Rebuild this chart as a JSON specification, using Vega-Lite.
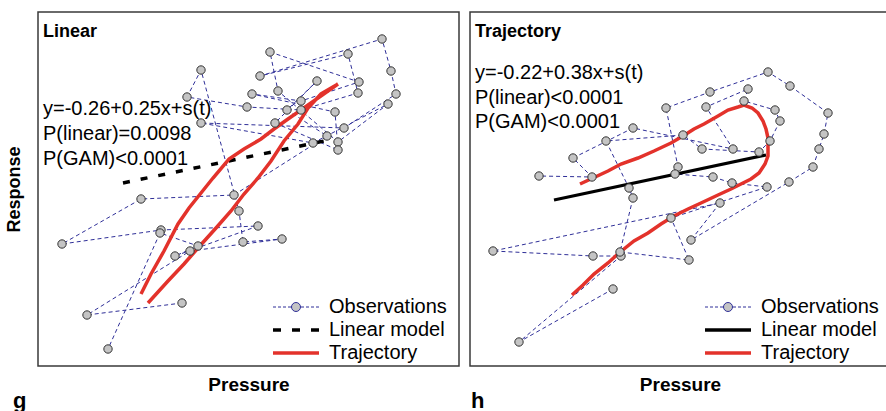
{
  "$schema": "https://vega.github.io/schema/vega-lite/v6.json",
  "background": "white",
  "padding": {"left": 4, "top": 11, "right": -4, "bottom": 0},
  "spacing": 9,
  "datasets": {
    "linObs": [
      {"t":1,"pressure":144,"response":63},{"t":2,"pressure":49,"response":51},{"t":3,"pressure":152,"response":115},
      {"t":4,"pressure":244,"response":127},{"t":5,"pressure":205,"response":124},{"t":6,"pressure":201,"response":155},
      {"t":7,"pressure":163,"response":296},{"t":8,"pressure":149,"response":269},{"t":9,"pressure":209,"response":259},
      {"t":10,"pressure":263,"response":256},{"t":11,"pressure":320,"response":273},{"t":12,"pressure":310,"response":312},
      {"t":13,"pressure":222,"response":290},{"t":14,"pressure":344,"response":327},{"t":15,"pressure":353,"response":295},
      {"t":16,"pressure":358,"response":272},{"t":17,"pressure":306,"response":238},{"t":18,"pressure":163,"response":243},
      {"t":19,"pressure":275,"response":223},{"t":20,"pressure":350,"response":262},{"t":21,"pressure":300,"response":224},
      {"t":22,"pressure":240,"response":275},{"t":23,"pressure":232,"response":314},{"t":24,"pressure":321,"response":284},
      {"t":25,"pressure":263,"response":265},{"t":26,"pressure":214,"response":272},{"t":27,"pressure":297,"response":254},
      {"t":28,"pressure":300,"response":216},{"t":29,"pressure":237,"response":243},{"t":30,"pressure":279,"response":285},
      {"t":31,"pressure":249,"response":256},{"t":32,"pressure":289,"response":230},{"t":33,"pressure":196,"response":171},
      {"t":34,"pressure":103,"response":167},{"t":35,"pressure":24,"response":122},{"t":36,"pressure":123,"response":136},
      {"t":37,"pressure":220,"response":140},{"t":38,"pressure":137,"response":110},{"t":39,"pressure":160,"response":120},
      {"t":40,"pressure":122,"response":133},{"t":41,"pressure":70,"response":17}
    ],
    "trajObs": [
      {"t":1,"pressure":143,"response":77},{"t":2,"pressure":49,"response":24},{"t":3,"pressure":151,"response":110},
      {"t":4,"pressure":123,"response":110},{"t":5,"pressure":23,"response":115},{"t":6,"pressure":250,"response":163},
      {"t":7,"pressure":221,"response":126},{"t":8,"pressure":319,"response":184},{"t":9,"pressure":343,"response":199},
      {"t":10,"pressure":349,"response":217},{"t":11,"pressure":354,"response":232},{"t":12,"pressure":358,"response":253},
      {"t":13,"pressure":320,"response":280},{"t":14,"pressure":298,"response":294},{"t":15,"pressure":240,"response":274},
      {"t":16,"pressure":196,"response":258},{"t":17,"pressure":208,"response":199},{"t":18,"pressure":205,"response":192},
      {"t":19,"pressure":243,"response":189},{"t":20,"pressure":262,"response":183},{"t":21,"pressure":297,"response":179},
      {"t":22,"pressure":201,"response":148},{"t":23,"pressure":219,"response":106},{"t":24,"pressure":150,"response":114},
      {"t":25,"pressure":163,"response":168},{"t":26,"pressure":159,"response":178},{"t":27,"pressure":136,"response":225},
      {"t":28,"pressure":213,"response":231},{"t":29,"pressure":232,"response":217},{"t":30,"pressure":289,"response":214},
      {"t":31,"pressure":300,"response":225},{"t":32,"pressure":310,"response":245},{"t":33,"pressure":305,"response":256},
      {"t":34,"pressure":274,"response":265},{"t":35,"pressure":278,"response":277},{"t":36,"pressure":236,"response":259},
      {"t":37,"pressure":263,"response":217},{"t":38,"pressure":163,"response":238},{"t":39,"pressure":103,"response":208},
      {"t":40,"pressure":122,"response":189},{"t":41,"pressure":69,"response":190}
    ],
    "linFit": [{"pressure":85,"response":183},{"pressure":296,"response":227}],
    "trajFit": [{"pressure":84,"response":166},{"pressure":296,"response":211}],
    "linCurve": [
      {"t":1,"pressure":103,"response":72},{"t":2,"pressure":113,"response":92},{"t":3,"pressure":126,"response":115},
      {"t":4,"pressure":140,"response":142},{"t":5,"pressure":151,"response":158},{"t":6,"pressure":163,"response":173},
      {"t":7,"pressure":175,"response":188},{"t":8,"pressure":191,"response":207},{"t":9,"pressure":206,"response":217},
      {"t":10,"pressure":223,"response":227},{"t":11,"pressure":236,"response":237},{"t":12,"pressure":250,"response":247},
      {"t":13,"pressure":263,"response":256},{"t":14,"pressure":280,"response":268},{"t":15,"pressure":300,"response":282},
      {"t":16,"pressure":283,"response":272},{"t":17,"pressure":270,"response":258},{"t":18,"pressure":260,"response":242},
      {"t":19,"pressure":246,"response":225},{"t":20,"pressure":233,"response":205},{"t":21,"pressure":220,"response":188},
      {"t":22,"pressure":206,"response":172},{"t":23,"pressure":193,"response":155},{"t":24,"pressure":178,"response":138},
      {"t":25,"pressure":160,"response":118},{"t":26,"pressure":146,"response":102},{"t":27,"pressure":130,"response":85},
      {"t":28,"pressure":110,"response":63}
    ],
    "trajCurve": [
      {"t":1,"pressure":110,"response":182},{"t":2,"pressure":123,"response":188},{"t":3,"pressure":138,"response":195},
      {"t":4,"pressure":151,"response":202},{"t":5,"pressure":168,"response":208},{"t":6,"pressure":184,"response":215},
      {"t":7,"pressure":201,"response":223},{"t":8,"pressure":213,"response":230},{"t":9,"pressure":224,"response":237},
      {"t":10,"pressure":234,"response":242},{"t":11,"pressure":248,"response":250},{"t":12,"pressure":258,"response":256},
      {"t":13,"pressure":268,"response":259},{"t":14,"pressure":274,"response":261},{"t":15,"pressure":282,"response":258},
      {"t":16,"pressure":288,"response":253},{"t":17,"pressure":293,"response":245},{"t":18,"pressure":296,"response":237},
      {"t":19,"pressure":298,"response":228},{"t":20,"pressure":298,"response":218},{"t":21,"pressure":298,"response":210},
      {"t":22,"pressure":295,"response":202},{"t":23,"pressure":289,"response":193},{"t":24,"pressure":281,"response":187},
      {"t":25,"pressure":271,"response":182},{"t":26,"pressure":261,"response":177},{"t":27,"pressure":248,"response":171},
      {"t":28,"pressure":231,"response":163},{"t":29,"pressure":218,"response":157},{"t":30,"pressure":204,"response":150},
      {"t":31,"pressure":191,"response":142},{"t":32,"pressure":178,"response":133},{"t":33,"pressure":164,"response":125},
      {"t":34,"pressure":149,"response":113},{"t":35,"pressure":138,"response":103},{"t":36,"pressure":124,"response":92},
      {"t":37,"pressure":113,"response":81},{"t":38,"pressure":102,"response":71}
    ],
    "linTitle": [{"pressure":5,"response":329,"note":"Linear"}],
    "linNotes": [
      {"pressure":5,"response":251,"note":"y=-0.26+0.25x+s(t)"},
      {"pressure":5,"response":226,"note":"P(linear)=0.0098"},
      {"pressure":5,"response":201,"note":"P(GAM)<0.0001"}
    ],
    "trajTitle": [{"pressure":5,"response":329,"note":"Trajectory"}],
    "trajNotes": [
      {"pressure":5,"response":287,"note":"y=-0.22+0.38x+s(t)"},
      {"pressure":5,"response":262.5,"note":"P(linear)<0.0001"},
      {"pressure":5,"response":238,"note":"P(GAM)<0.0001"}
    ]
  },
  "hconcat": [
    {
      "width": 421,
      "height": 354,
      "title": {"text": "g", "orient": "bottom", "anchor": "start", "frame": "bounds", "fontSize": 22, "fontWeight": "bold", "font": "Liberation Sans", "color": "black", "dx": 8, "offset": -3},
      "encoding": {
        "x": {"field": "pressure", "type": "quantitative", "scale": {"domain": [0, 421], "nice": false, "zero": false},
              "axis": {"title": "Pressure", "ticks": false, "labels": false, "domain": false, "grid": false, "titleFontSize": 19, "titleFontWeight": "bold", "titleFont": "Liberation Sans", "titleColor": "black", "titlePadding": 9}},
        "y": {"field": "response", "type": "quantitative", "scale": {"domain": [0, 354], "nice": false, "zero": false},
              "axis": {"title": "Response", "ticks": false, "labels": false, "domain": false, "grid": false, "titleFontSize": 18, "titleFontWeight": "bold", "titleFont": "Liberation Sans", "titleColor": "black", "titlePadding": 15}}
      },
      "layer": [
        {
          "data": {"name": "linObs"},
          "mark": {"type": "line", "strokeWidth": 1, "strokeDash": [4, 3]},
          "encoding": {
            "order": {"field": "t", "type": "quantitative"},
            "color": {"datum": "Observations", "type": "nominal",
              "scale": {"domain": ["Observations", "Linear model", "Trajectory"], "range": ["#2f2f98", "#000000", "#e3322b"]},
              "legend": {
                "title": null, "orient": "none", "legendX": 248, "legendY": 285, "padding": 0,
                "labelFontSize": 20, "labelFont": "Liberation Sans", "labelColor": "black", "labelOffset": 23, "labelLimit": 300,
                "symbolSize": 400, "rowPadding": 3, "labelBaseline": "middle",
                "encode": {"symbols": {"update": {
                  "shape": {"signal": "datum.value === 'Observations' ? 'M-2.3,0H-2M-1.8,0H-1.5M-1.3,0H-1M-0.8,0H-0.45M0.45,0H0.8M1,0H1.3M1.5,0H1.8M2,0H2.3M0.45,0A0.45,0.45,0,1,1,-0.45,0A0.45,0.45,0,1,1,0.45,0' : 'M-2.3,0H2.3'"},
                  "strokeWidth": {"signal": "datum.value === 'Observations' ? 1 : 3.5"},
                  "strokeDash": {"signal": "datum.value === 'Linear model' ? [8, 11] : []"},
                  "fill": {"signal": "datum.value === 'Observations' ? '#c4c4c4' : 'transparent'"}
                }}}
              }}
          }
        },
        {
          "data": {"name": "linFit"},
          "mark": {"type": "line", "strokeWidth": 3.5, "strokeDash": [7, 11]},
          "encoding": {"color": {"datum": "Linear model", "type": "nominal"}}
        },
        {
          "data": {"name": "linCurve"},
          "mark": {"type": "line", "strokeWidth": 3.5},
          "encoding": {"order": {"field": "t", "type": "quantitative"}, "color": {"datum": "Trajectory", "type": "nominal"}}
        },
        {
          "data": {"name": "linObs"},
          "mark": {"type": "point", "shape": "circle", "filled": true, "fill": "#c4c4c4", "stroke": "#333333", "strokeWidth": 1, "size": 70, "opacity": 1}
        },
        {
          "data": {"name": "linTitle"},
          "mark": {"type": "text", "fontSize": 18, "fontWeight": "bold", "font": "Liberation Sans", "align": "left", "baseline": "alphabetic", "color": "black"},
          "encoding": {"text": {"field": "note", "type": "nominal"}}
        },
        {
          "data": {"name": "linNotes"},
          "mark": {"type": "text", "fontSize": 20, "font": "Liberation Sans", "align": "left", "baseline": "alphabetic", "color": "black"},
          "encoding": {"text": {"field": "note", "type": "nominal"}}
        }
      ]
    },
    {
      "width": 420,
      "height": 354,
      "title": {"text": "h", "orient": "bottom", "anchor": "start", "frame": "bounds", "fontSize": 22, "fontWeight": "bold", "font": "Liberation Sans", "color": "black", "dx": 1, "offset": -3},
      "encoding": {
        "x": {"field": "pressure", "type": "quantitative", "scale": {"domain": [0, 420], "nice": false, "zero": false},
              "axis": {"title": "Pressure", "ticks": false, "labels": false, "domain": false, "grid": false, "titleFontSize": 19, "titleFontWeight": "bold", "titleFont": "Liberation Sans", "titleColor": "black", "titlePadding": 9}},
        "y": {"field": "response", "type": "quantitative", "scale": {"domain": [0, 354], "nice": false, "zero": false}, "axis": null}
      },
      "layer": [
        {
          "data": {"name": "trajObs"},
          "mark": {"type": "line", "strokeWidth": 1, "strokeDash": [4, 3]},
          "encoding": {
            "order": {"field": "t", "type": "quantitative"},
            "color": {"datum": "Observations", "type": "nominal",
              "scale": {"domain": ["Observations", "Linear model", "Trajectory"], "range": ["#2f2f98", "#000000", "#e3322b"]},
              "legend": {
                "title": null, "orient": "none", "legendX": 248, "legendY": 285, "padding": 0,
                "labelFontSize": 20, "labelFont": "Liberation Sans", "labelColor": "black", "labelOffset": 23, "labelLimit": 300,
                "symbolSize": 400, "rowPadding": 3, "labelBaseline": "middle",
                "encode": {"symbols": {"update": {
                  "shape": {"signal": "datum.value === 'Observations' ? 'M-2.3,0H-2M-1.8,0H-1.5M-1.3,0H-1M-0.8,0H-0.45M0.45,0H0.8M1,0H1.3M1.5,0H1.8M2,0H2.3M0.45,0A0.45,0.45,0,1,1,-0.45,0A0.45,0.45,0,1,1,0.45,0' : 'M-2.3,0H2.3'"},
                  "strokeWidth": {"signal": "datum.value === 'Observations' ? 1 : 3.5"},
                  "strokeDash": {"signal": "[]"},
                  "fill": {"signal": "datum.value === 'Observations' ? '#c4c4c4' : 'transparent'"}
                }}}
              }}
          }
        },
        {
          "data": {"name": "trajFit"},
          "mark": {"type": "line", "strokeWidth": 3.2},
          "encoding": {"color": {"datum": "Linear model", "type": "nominal"}}
        },
        {
          "data": {"name": "trajCurve"},
          "mark": {"type": "line", "strokeWidth": 3.5},
          "encoding": {"order": {"field": "t", "type": "quantitative"}, "color": {"datum": "Trajectory", "type": "nominal"}}
        },
        {
          "data": {"name": "trajObs"},
          "mark": {"type": "point", "shape": "circle", "filled": true, "fill": "#c4c4c4", "stroke": "#333333", "strokeWidth": 1, "size": 70, "opacity": 1}
        },
        {
          "data": {"name": "trajTitle"},
          "mark": {"type": "text", "fontSize": 18, "fontWeight": "bold", "font": "Liberation Sans", "align": "left", "baseline": "alphabetic", "color": "black"},
          "encoding": {"text": {"field": "note", "type": "nominal"}}
        },
        {
          "data": {"name": "trajNotes"},
          "mark": {"type": "text", "fontSize": 20, "font": "Liberation Sans", "align": "left", "baseline": "alphabetic", "color": "black"},
          "encoding": {"text": {"field": "note", "type": "nominal"}}
        }
      ]
    }
  ],
  "resolve": {"scale": {"color": "independent"}, "legend": {"color": "independent"}},
  "config": {
    "font": "Liberation Sans",
    "view": {"stroke": "#3a3a3a", "strokeWidth": 1.5}
  }
}
